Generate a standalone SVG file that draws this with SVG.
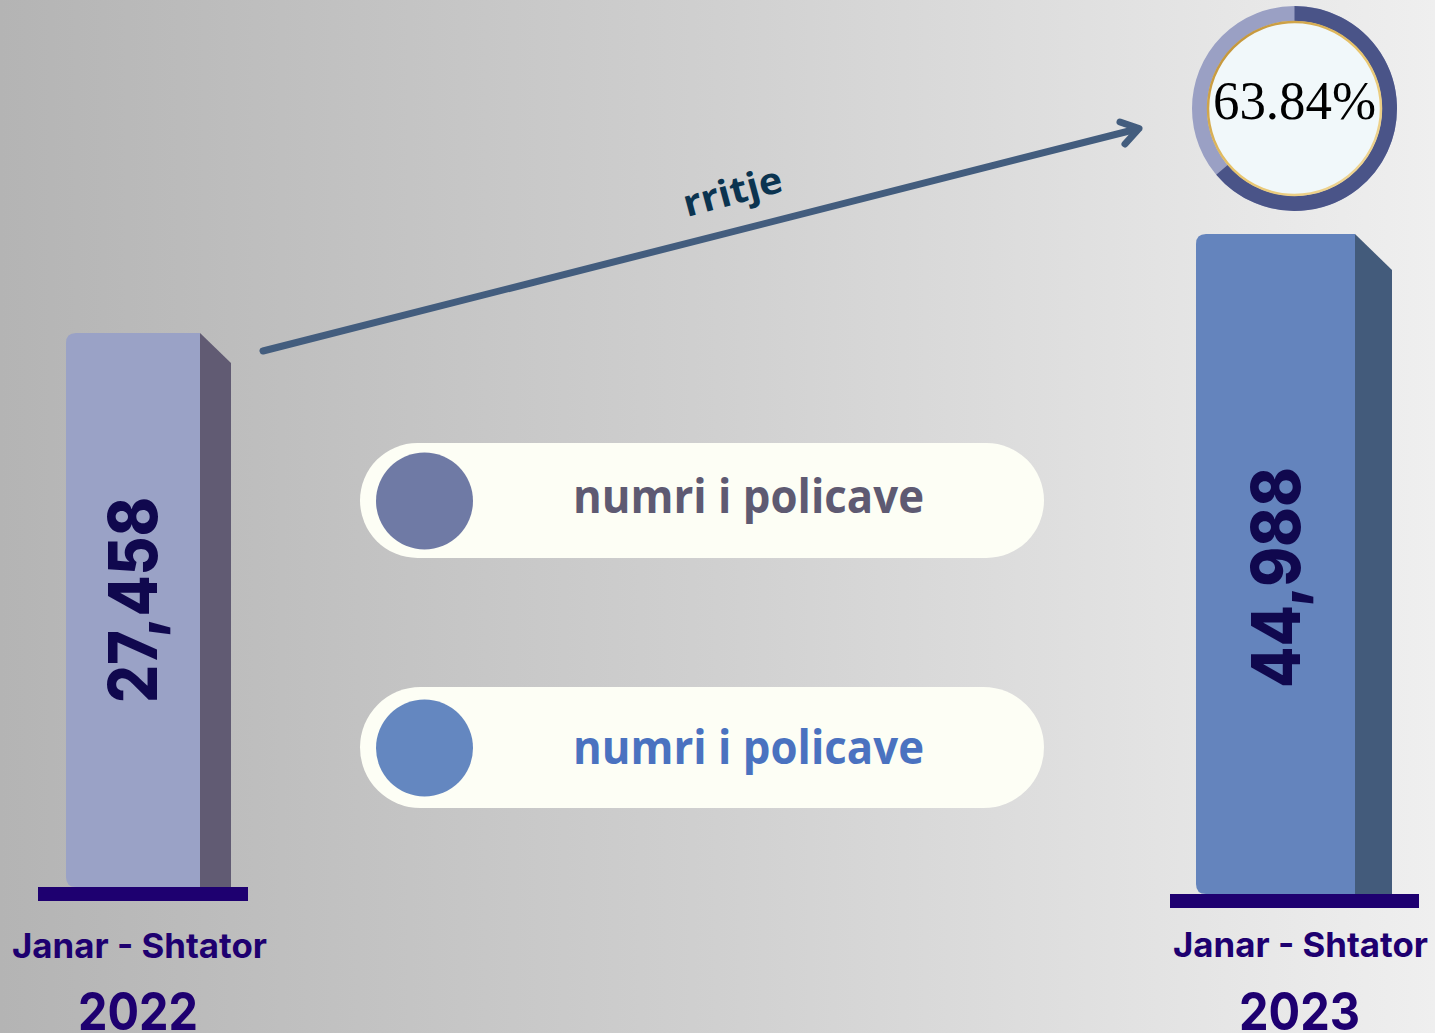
<svg xmlns="http://www.w3.org/2000/svg" width="1435" height="1033" viewBox="0 0 1435 1033">
  <defs>
    <linearGradient id="bg" x1="0" y1="0" x2="1" y2="0">
      <stop offset="0" stop-color="#b4b4b4"/>
      <stop offset="0.5" stop-color="#d0d0d0"/>
      <stop offset="1" stop-color="#efefef"/>
    </linearGradient>
    <linearGradient id="gold" x1="0" y1="0" x2="1" y2="1">
      <stop offset="0" stop-color="#b8862a"/>
      <stop offset="0.5" stop-color="#e8c46a"/>
      <stop offset="1" stop-color="#f0d9a0"/>
    </linearGradient>
  </defs>
  <style>
    .lbl { font-family: Inter, "Liberation Sans", sans-serif; font-weight: 700; fill: #1e0070; text-anchor: middle; }
    .num { font-family: Inter, "Liberation Sans", sans-serif; font-weight: 800; fill: #10084e; text-anchor: middle; font-size: 68px; }
    .pill { fill: #fdfef5; }
    .ptxt { font-family: "Open Sans", "Liberation Sans", sans-serif; font-weight: 700; font-size: 46px; text-anchor: middle; }
    .base { fill: #1e0070; }
    .conn { fill: none; stroke: #435d7e; stroke-width: 7; stroke-linecap: round; stroke-linejoin: round; }
  </style>
  <rect width="1435" height="1033" fill="url(#bg)"/>

  <g id="bar-2022">
    <path d="M200,333 L231,363 L231,887 L200,887 Z" fill="#615b73"/>
    <path d="M76,333 L200,333 L200,887 L76,887 Q66,887 66,877 L66,343 Q66,333 76,333 Z" fill="#9aa2c6"/>
    <rect class="base" x="38" y="887" width="210" height="14"/>
    <text class="num" transform="translate(157,600) rotate(-90)" textLength="206" lengthAdjust="spacingAndGlyphs">27,458</text>
    <text class="lbl" x="139.5" y="958" font-size="34" textLength="255" lengthAdjust="spacingAndGlyphs">Janar - Shtator</text>
    <text class="lbl" x="138" y="1030" font-size="52" textLength="120" lengthAdjust="spacingAndGlyphs">2022</text>
  </g>

  <g id="bar-2023">
    <path d="M1355,234 L1392,270 L1392,894 L1355,894 Z" fill="#435b7b"/>
    <path d="M1206,234 L1355,234 L1355,894 L1206,894 Q1196,894 1196,884 L1196,244 Q1196,234 1206,234 Z" fill="#6484bd"/>
    <rect class="base" x="1170" y="894" width="249" height="14"/>
    <text class="num" transform="translate(1300,577.5) rotate(-90)" textLength="221" lengthAdjust="spacingAndGlyphs" font-size="70">44,988</text>
    <text class="lbl" x="1300.5" y="957" font-size="34" textLength="255" lengthAdjust="spacingAndGlyphs">Janar - Shtator</text>
    <text class="lbl" x="1299.5" y="1030" font-size="52" textLength="121" lengthAdjust="spacingAndGlyphs">2023</text>
  </g>

  <g id="percent-ring">
    <circle cx="1294.5" cy="108.5" r="95" fill="none" stroke="#9aa0c4" stroke-width="15"/>
    <path d="M1294.5,13.5 A95,95 0 1 1 1221.94,169.82" fill="none" stroke="#4a5488" stroke-width="15"/>
    <circle cx="1294.5" cy="108.5" r="86.5" fill="#f1f8fa" stroke="url(#gold)" stroke-width="2.5"/>
    <text x="1294.5" y="119" font-family="'Liberation Serif', serif" font-size="54" fill="#000" text-anchor="middle" textLength="163" lengthAdjust="spacingAndGlyphs">63.84%</text>
  </g>

  <g id="legend-2022">
    <rect class="pill" x="360" y="443" width="684" height="115" rx="57.5"/>
    <circle cx="424.5" cy="501" r="48.5" fill="#6f7aa5"/>
    <text class="ptxt" x="748.5" y="513" fill="#5e5a72" textLength="351" lengthAdjust="spacingAndGlyphs">numri i policave</text>
  </g>

  <g id="legend-2023">
    <rect class="pill" x="360" y="687" width="684" height="121" rx="60.5"/>
    <circle cx="424.5" cy="748" r="48.5" fill="#6487c0"/>
    <text class="ptxt" x="748.5" y="764" fill="#4a72c0" textLength="351" lengthAdjust="spacingAndGlyphs">numri i policave</text>
  </g>

  <g id="connectors">
    <path class="conn" d="M263,351 L1137,129"/>
    <path class="conn" d="M1120,122 L1139,128.5 L1125,144"/>
    <text transform="translate(687,217) rotate(-15)" font-family="'Open Sans', 'Liberation Sans', sans-serif" font-weight="700" font-size="37" fill="#0b3450" textLength="101" lengthAdjust="spacingAndGlyphs">rritje</text>
  </g>
</svg>
